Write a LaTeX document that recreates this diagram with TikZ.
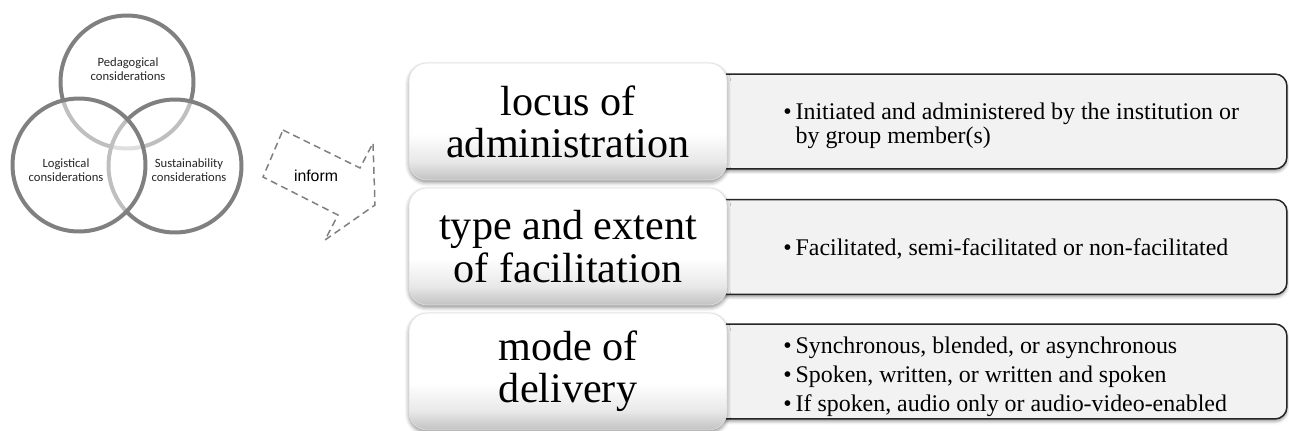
\documentclass[tikz,border=0pt]{standalone}
\usepackage{fontspec}
\setmainfont{Liberation Serif}
\newfontfamily\vennfont{Carlito}
\newfontfamily\informfont{Liberation Sans}
\usetikzlibrary{shadows,shadows.blur}

\pgfdeclareverticalshading{headshade}{100bp}{color(0bp)=(black!24); color(25bp)=(black!24);
  color(33bp)=(black!9); color(45bp)=(white); color(100bp)=(white)}

\tikzset{
  venn/.style = {circle, draw=black!50, line width=0.08cm, fill=white, fill opacity=0.5,
                 minimum size=2.66cm, inner sep=0pt},
  venntext/.style = {font=\vennfont\fontsize{7.2}{8.3}\selectfont, align=center, text=black!85},
  headbox/.style = {rounded corners=0.36cm, minimum width=6.36cm, minimum height=2.34cm,
                    draw=black!12, shading=headshade, align=center,
                    font=\fontsize{24}{24}\selectfont,
                    blur shadow={shadow xshift=0pt, shadow yshift=-0.05cm,
                                 shadow blur radius=0.08cm, shadow opacity=45}},
  itembox/.style = {rounded corners=0.24cm, minimum width=11.74cm, minimum height=1.9cm,
                    draw=black!85, line width=0.03cm, fill=black!5,
                    blur shadow={shadow xshift=0pt, shadow yshift=-0.05cm,
                                 shadow blur radius=0.06cm, shadow opacity=40}},
  itemtext/.style = {anchor=west, align=left, inner sep=0pt, font=\fontsize{13.6}{13.6}\selectfont},
  informarrow/.style = {draw=black!50, line width=0.03cm, dash pattern=on 0.14cm off 0.09cm}
}
\newcommand{\itemmark}{\textbullet\,}

\begin{document}
\begin{tikzpicture}[x=0.02cm, y=-0.02cm]
    \useasboundingbox (0,0) rectangle (1289,430);

    % venn circles (top, right, left)
    \node[venn] (ped) at (127,82) {};
    \node[venn] (sus) at (175,166) {};
    \node[venn] (log) at (79,165) {};
    \node[venntext] (pedtext) at (128,69) {Pedagogical\\considerations};
    \node[venntext] (logtext) at (66,170) {Logistical\\considerations};
    \node[venntext] (sustext) at (189,170) {Sustainability\\considerations};

    % dashed arrow
    \draw[informarrow] (283,130) -- (360,168) -- (373,143) -- (375,205) -- (325,240)
        -- (338,215) -- (263,177) -- cycle;
    \node[font=\informfont\fontsize{9}{9}\selectfont] (inform) at (316,176) {inform};

    % right boxes
    \node[itembox] (admin) at (993.5,121.5) {};
    \node[itembox] (facil) at (993.5,247) {};
    \node[itembox] (deliv) at (993.5,371.5) {};

    % left boxes
    \node[headbox] (locus) at (568,121.5) {locus of\\administration};
    \node[headbox] (type) at (568,246.5) {type and extent\\of facilitation};
    \node[headbox] (mode) at (568,371.5) {mode of\\delivery};

    \node[itemtext] (admintext) at (783,126)
        {\itemmark Initiated and administered by the institution or\\
         \hphantom{\itemmark}by group member(s)};
    \node[itemtext] (faciltext) at (783,249)
        {\itemmark Facilitated, semi-facilitated or non-facilitated};
    \node[itemtext] (delivtext) at (783,377)
        {\itemmark Synchronous, blended, or asynchronous\\[2.9pt]
         \itemmark Spoken, written, or written and spoken\\[2.9pt]
         \itemmark If spoken, audio only or audio-video-enabled};
\end{tikzpicture}
\end{document}
